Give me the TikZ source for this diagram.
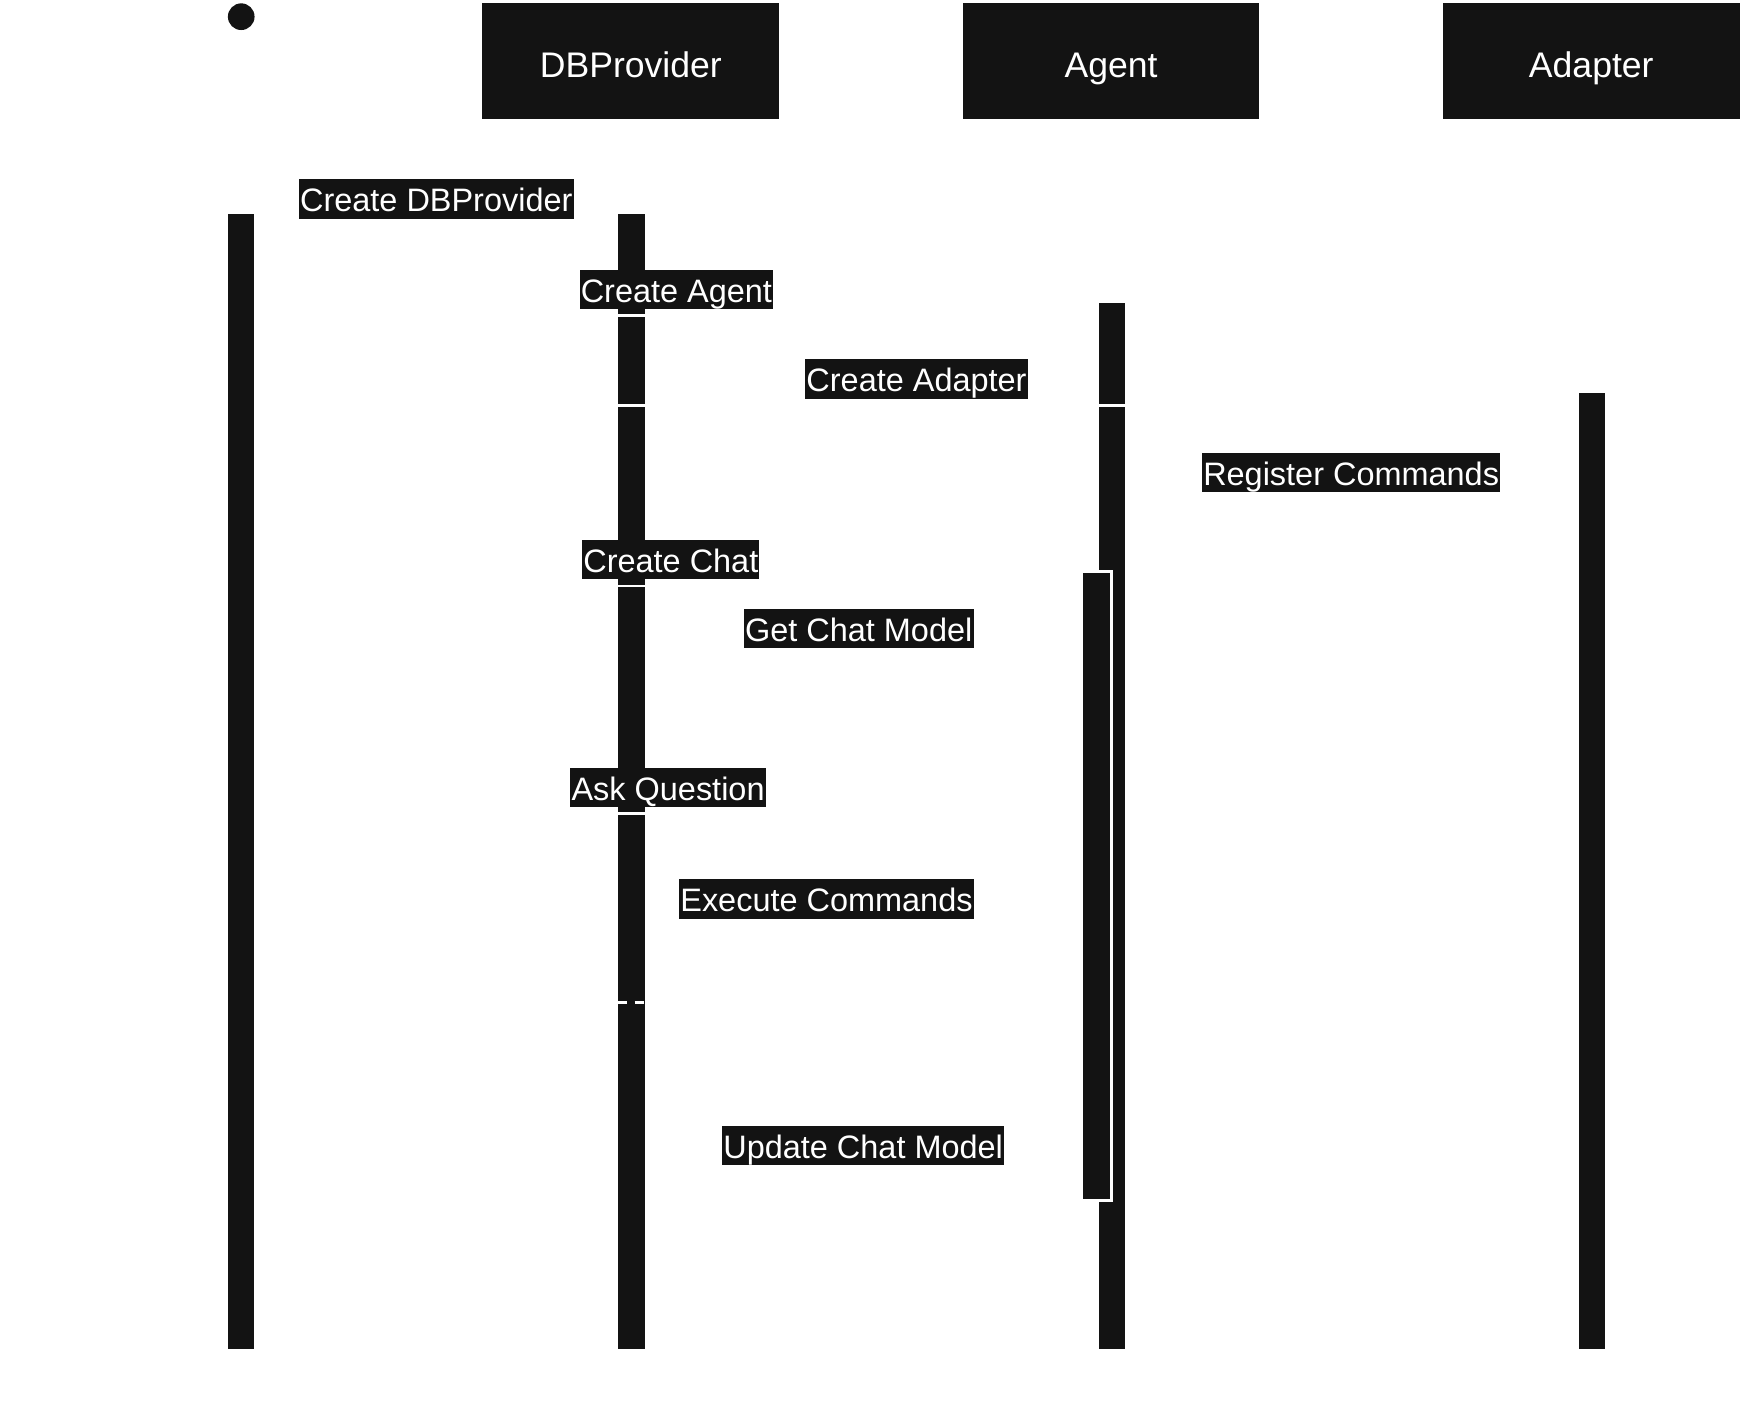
\documentclass[tikz,border=0pt]{standalone}
\usepackage{fontspec}
\setmainfont{Liberation Sans}
\usetikzlibrary{positioning}
\definecolor{ink}{RGB}{19,19,19}

\begin{document}
\begin{tikzpicture}[x=0.5pt, y=-0.5pt, node distance={216pt},
    head/.style = {fill=ink, text=white, minimum width=133.5pt, minimum height=52pt, text height=16.5pt, text depth=1.5pt, font=\fontsize{16}{19}\selectfont},
    msg/.style = {fill=ink, text=white, inner xsep=0.5pt, inner ysep=0pt, text height=14.6pt, text depth=3.2pt, font=\fontsize{14.6}{17}\selectfont},
    bar/.style = {fill=ink, draw=white, line width=1.2pt}]
    \useasboundingbox (0,0) rectangle (1568,1271);

    \node[circle, fill=ink, inner sep=0pt, minimum size=12pt] (start) at (217,15) {};
    \node[head] (db) at (567.5,55) {DBProvider};
    \node[head] (agent) [right of=db] {Agent};
    \node[head] (adapter) [right of=agent] {Adapter};

    % activations
    \draw[bar] (204,191) rectangle (230,1215);
    \foreach \a/\b in {191/284, 284/365, 365/527, 527/732, 732/1215}
        \draw[bar] (555,\a) rectangle (581,\b);
    \draw[bar] (987,271) rectangle (1013,365);
    \draw[bar] (987,365) rectangle (1013,1215);
    \draw[bar] (973,514) rectangle (1000,1080);
    \draw[bar] (1419,352) rectangle (1445,1215);

    \coordinate (ret1) at (556,902);
    \coordinate (ret2) at (580,902);
    \draw[white, line width=1.2pt, dash pattern=on 4pt off 3.5pt] (ret1) -- (ret2);

    \node[msg] (newdb) at (392.5,179) {Create DBProvider};
    \node[msg] (newagent) at (608.5,260.5) {Create Agent};
    \node[msg] (newadapter) at (824.5,341) {Create Adapter};
    \node[msg] (register) at (1215.5,425) {Register Commands};
    \node[msg] (newchat) at (603.5,503.5) {Create Chat};
    \node[msg] (getmodel) at (772.5,565.5) {Get Chat Model};
    \node[msg] (ask) at (601,708.5) {Ask Question};
    \node[msg] (exec) at (743.5,808.5) {Execute Commands};
    \node[msg] (update) at (776.5,1030.5) {Update Chat Model};
\end{tikzpicture}
\end{document}
